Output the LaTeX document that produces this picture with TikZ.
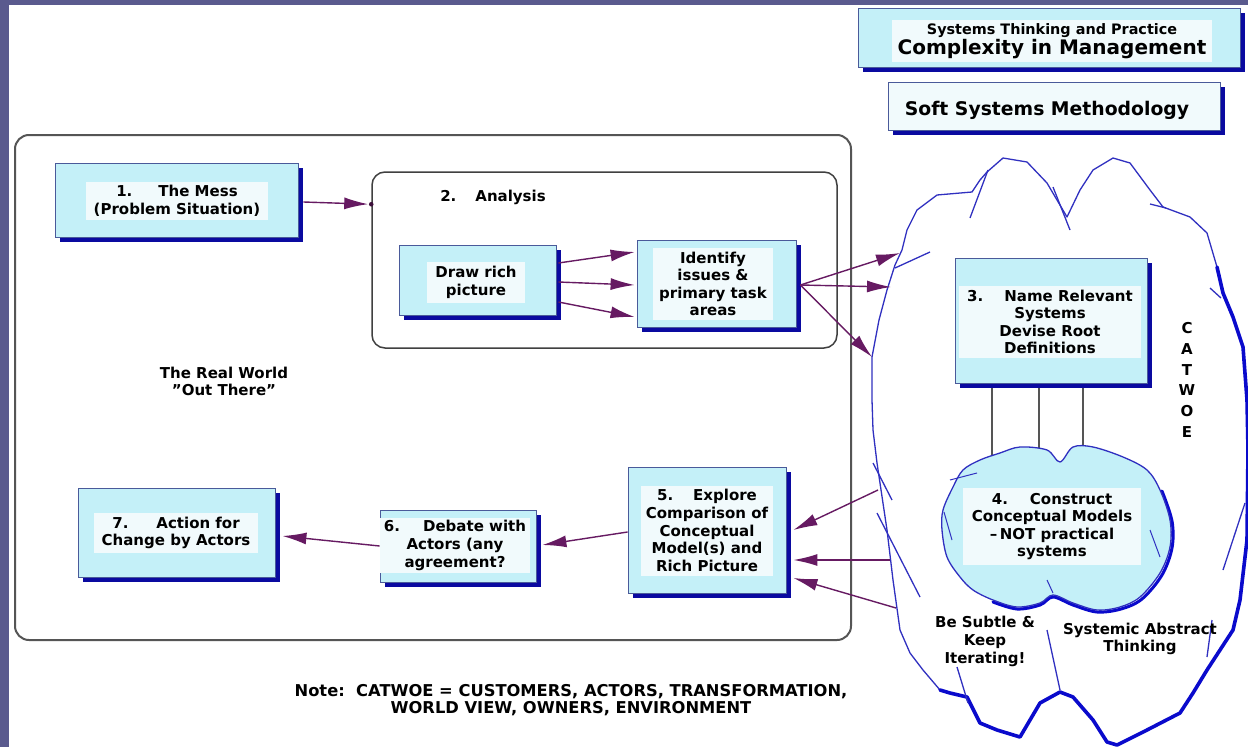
\documentclass[tikz,border=0pt]{standalone}
\usepackage{fontspec}
\setmainfont{DejaVu Sans}
\usetikzlibrary{arrows.meta,shadows,calc}
\definecolor{bgband}{HTML}{5A5A8E}
\definecolor{boxfill}{HTML}{C4F0F8}
\definecolor{innerfill}{HTML}{F1FAFC}
\definecolor{boxline}{HTML}{4A5A9A}
\definecolor{shadowblue}{HTML}{0A0AA0}
\definecolor{arrowcol}{HTML}{661A62}
\definecolor{cloudblue}{HTML}{3030C0}
\definecolor{cloudthick}{HTML}{0A0ACC}
\definecolor{framegray}{HTML}{555555}
\begin{document}
\begin{tikzpicture}[x=1pt,y=-1pt,
  font=\fontsize{15}{17.6}\selectfont\bfseries,
  cbox/.style={draw=boxline, line width=0.8pt, fill=boxfill, inner sep=0pt,
    drop shadow={shadow xshift=5pt,shadow yshift=-5pt,fill=shadowblue,opacity=1}},
  wbox/.style={cbox, fill=innerfill},
  ctext/.style={fill=innerfill, align=center, inner xsep=8pt, inner ysep=4pt},
  lbl/.style={align=center, inner sep=0pt},
  arr/.style={draw=arrowcol, line width=1.4pt, -{Latex[length=24pt,width=12pt]}},
  cloudline/.style={draw=cloudblue, line width=1.3pt, line join=round},
  heavy/.style={draw=cloudthick, line width=3.6pt, line join=round, line cap=round},
  stub/.style={draw=framegray, line width=1.5pt}
]
\useasboundingbox (0,0) rectangle (1248,747);
\fill[white] (0,0) rectangle (1248,747);
\fill[bgband] (0,0) rectangle (9,747);
\fill[bgband] (0,0) rectangle (1248,5);

% big cloud
\draw[cloudline, fill=white] (940,690) -- (923,670) -- (910,653) -- (900,630) -- (893,580) -- (887,530) -- (877,463) -- (873,430) -- (872,400) -- (872,357) -- (879,320) -- (887,290) -- (895,265) -- (902,250) -- (907,230) -- (917,210) -- (937,195) -- (972,192) -- (980,180) -- (987,172) -- (1003,158) -- (1027,162) -- (1047,183) -- (1067,217) -- (1080,190) -- (1093,170) -- (1113,158) -- (1130,163) -- (1150,190) -- (1163,207) -- (1190,217) -- (1207,233) -- (1217,267) -- (1223,293) -- (1233,317) -- (1243,347) -- (1247,400) -- (1248,450) -- (1247,540) -- (1240,600) -- (1233,630) -- (1207,670) -- (1193,693) -- (1180,713) -- (1147,730) -- (1117,745) -- (1107,742) -- (1093,720) -- (1073,697) -- (1060,692) -- (1040,703) -- (1020,737) -- (997,730) -- (980,723) -- (967,697) -- (950,693) -- cycle;
\draw[heavy] (1217,267) -- (1223,293) -- (1233,317) -- (1243,347) -- (1247,400) -- (1248,450) -- (1247,540) -- (1240,600) -- (1233,630) -- (1207,670) -- (1193,693) -- (1180,713) -- (1147,730) -- (1117,745) -- (1107,742) -- (1093,720) -- (1073,697) -- (1060,692) -- (1040,703) -- (1020,737) -- (997,730) -- (980,723) -- (967,697) -- (950,693) -- (940,690);
% stray strokes
\draw[cloudline] (970,218) -- (988,170);
\draw[cloudline] (1053,187) -- (1070,230);
\draw[cloudline] (1150,204) -- (1166,208);
\draw[cloudline] (1210,288) -- (1221,298);
\draw[cloudline] (895,268) -- (930,252);
\draw[cloudline] (873,463) -- (892,500);
\draw[cloudline] (877,513) -- (920,597);
\draw[cloudline] (957,667) -- (968,703);
\draw[cloudline] (1047,630) -- (1060,690);
\draw[cloudline] (1207,657) -- (1212,620);
\draw[cloudline] (1223,570) -- (1245,503);

% header boxes
\node[cbox, minimum width=382pt, minimum height=59pt] (hdr1) at (1049,37.5) {};
\node[ctext, inner xsep=6pt, inner ysep=3pt, font=\fontsize{20}{20}\selectfont\bfseries] (hdr1t) at (1052,41)
  {{\fontsize{14.4}{15}\selectfont Systems Thinking and Practice}\\Complexity in Management};
\node[wbox, minimum width=332pt, minimum height=48pt] (hdr2) at (1054,106) {};
\node[lbl, font=\fontsize{18.8}{20}\selectfont\bfseries] (hdr2t) at (1047,110) {Soft Systems Methodology};

% frames
\node[draw=framegray, line width=2pt, rounded corners=14pt, minimum width=836pt, minimum height=505pt] (world) at (433,387.5) {};
\node[draw=black!75, line width=1.5pt, rounded corners=13pt, minimum width=465pt, minimum height=176pt] (analysis) at (604.5,260) {};
\node[lbl] (antitle) at (493,197) {2.\hspace{19pt}Analysis};
\node[lbl] (rw) at (224,381.5) {The Real World\\\symbol{34}Out There\symbol{34}};

% boxes
\node[cbox, minimum width=243pt, minimum height=74pt] (mess) at (176.5,200) {};
\node[ctext] (messt) at (177,201) {1.\hspace{26pt}The Mess\\(Problem Situation)};

\node[cbox, minimum width=157pt, minimum height=70pt] (rich) at (477.5,280) {};
\node[ctext] (richt) at (476,282.5) {Draw rich\\picture};

\node[cbox, minimum width=159pt, minimum height=87pt] (ident) at (716.5,283.5) {};
\node[ctext, inner xsep=6pt] (identt) at (713,284) {Identify\\issues \&\\primary task\\areas};

\node[cbox, minimum width=192pt, minimum height=125pt] (box3) at (1051,320.5) {};
\node[ctext] (box3t) at (1050,322) {3.\hspace{21pt}Name Relevant\\Systems\\Devise Root\\Definitions};

\node[cbox, minimum width=158pt, minimum height=126pt] (box5) at (707,530) {};
\node[ctext, inner xsep=5pt] (box5t) at (707,530.5) {5.\hspace{20pt}Explore\\Comparison of\\Conceptual\\Model(s) and\\Rich Picture};

\node[cbox, minimum width=156pt, minimum height=72pt] (box6) at (458,546) {};
\node[ctext, inner xsep=4pt, inner ysep=3pt] (box6t) at (455,545.5) {6.\hspace{23pt}Debate with\\Actors (any\\agreement?};

\node[cbox, minimum width=197pt, minimum height=89pt] (box7) at (176.5,532.5) {};
\node[ctext] (box7t) at (176,533) {7.\hspace{28pt}Action for\\Change by Actors};

% CATWOE
\node[lbl, font=\fontsize{15}{20.8}\selectfont\bfseries] (catwoe) at (1187,380) {C\\A\\T\\W\\O\\E};

% stubs from box 3 to small cloud
\draw[stub] ($(box3.south)+(-59,5)$) -- ($(box3.south)+(-59,72)$);
\draw[stub] ($(box3.south)+(-12,5)$) -- ($(box3.south)+(-12,65)$);
\draw[stub] ($(box3.south)+(32,5)$) -- ($(box3.south)+(32,63)$);

% small cloud
\draw[heavy, line width=3pt] plot[smooth, tension=0.55] coordinates {(1162,491) (1172,521) (1172,548) (1162,575) (1142,599) (1121,609) (1097,612) (1073,605) (1053,597) (1040,605) (1017,609) (993,602)};
\draw[cloudline, fill=boxfill] plot[smooth cycle, tension=0.55] coordinates {(943,510) (942,530) (947,557) (960,577) (973,590) (993,600) (1017,607) (1040,603) (1053,595) (1073,603) (1097,610) (1120,607) (1140,597) (1160,573) (1170,547) (1170,520) (1160,490) (1147,470) (1123,457) (1093,447) (1073,447) (1060,462) (1047,450) (1020,447) (1000,453) (980,460) (963,470) (953,487)};
\draw[cloudline, line width=1pt] (950,480) -- (977,473);
\draw[cloudline, line width=1pt] (944,512) -- (952,540);
\draw[cloudline, line width=1pt] (1150,530) -- (1160,557);
\draw[cloudline, line width=1pt] (1047,580) -- (1053,593);
\node[ctext, inner xsep=9pt, inner ysep=5pt] (cm) at (1052,526.5) {4.\hspace{22pt}Construct\\Conceptual Models\\–\,NOT practical\\systems};

\node[lbl] (subtle) at (985,641.5) {Be Subtle \&\\Keep\\Iterating!};
\node[lbl] (abstract) at (1140,639) {Systemic Abstract\\Thinking};

% coordinates on the cloud
\coordinate (ain) at ($(analysis.north west)+(0,33)$);
\coordinate (c1) at (900,253);
\coordinate (c2) at (891,287);
\coordinate (c3) at (872,357);
\coordinate (q1) at (878,490);
\coordinate (q2) at (890,560);
\coordinate (q3) at (896,608);

% connectors
\draw[arr, shorten >=3pt] ($(mess.east)+(5,2)$) -- (ain);
\fill[arrowcol!60!black] (ain) circle[radius=2.3pt];
\draw[arr] ($(rich.east)+(2,-17)$) -- ($(ident.west)+(-2,-31.5)$);
\draw[arr] ($(rich.east)+(2,2)$) -- ($(ident.west)+(-2,1.5)$);
\draw[arr] ($(rich.east)+(2,22)$) -- ($(ident.west)+(-2,33.5)$);
\draw[arr] ($(ident.east)+(4,1.5)$) -- (c1);
\draw[arr] ($(ident.east)+(4,1.5)$) -- (c2);
\draw[arr] ($(ident.east)+(4,1.5)$) -- (c3);
\draw[arr] (q1) -- ($(box5.east)+(7,0)$);
\draw[arr] (q2) -- ($(box5.east)+(7,30)$);
\draw[arr] (q3) -- ($(box5.east)+(7,48)$);
\draw[arr] ($(box5.west)+(0,2)$) -- ($(box6.east)+(6,-1)$);
\draw[arr] (box6.west) -- ($(box7.east)+(7,3.5)$);

% note
\node[lbl, font=\fontsize{16.3}{17}\selectfont\bfseries] (note) at (571,700.5) {Note:\ \ CATWOE = CUSTOMERS, ACTORS, TRANSFORMATION,\\WORLD VIEW, OWNERS, ENVIRONMENT};
\end{tikzpicture}
\end{document}
